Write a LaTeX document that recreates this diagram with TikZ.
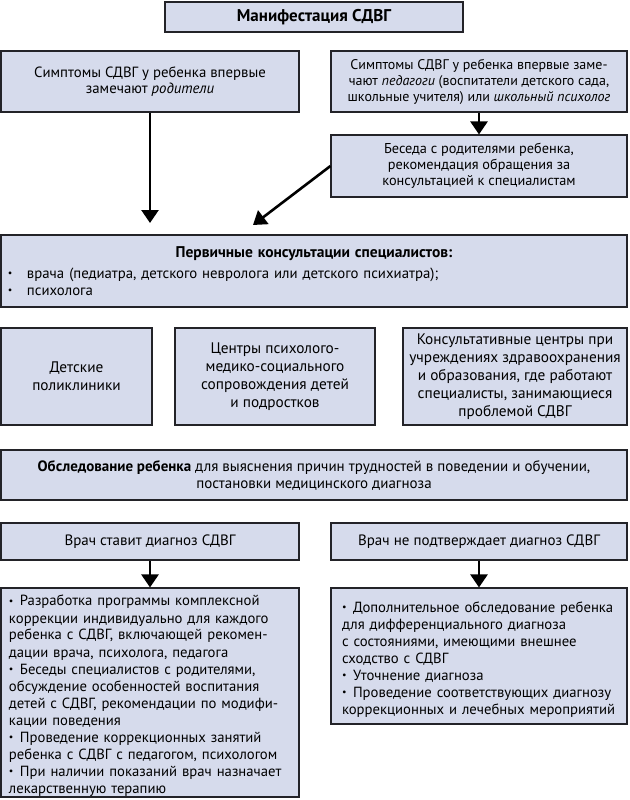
\documentclass[tikz,border=0pt]{standalone}
\usepackage{fontspec}
\setmainfont{PT Sans}
\usetikzlibrary{arrows.meta}
\definecolor{boxfill}{RGB}{214,219,236}
\definecolor{boxline}{RGB}{35,35,40}
\newcommand{\smallbullet}{\raisebox{0.12em}{\fontsize{10}{10}\selectfont •}}
\newcommand{\bitem}[2]{\par\hangindent=#1\hangafter=1\noindent\makebox[#1][l]{\smallbullet}#2}
\begin{document}
\begin{tikzpicture}[x=1pt,y=-1pt,
  box/.style={draw=boxline, line width=1.1pt, fill=boxfill, inner sep=0pt, align=center,
    font=\fontsize{14.5}{16}\selectfont},
  listbox/.style={box, font=\fontsize{14.7}{17}\selectfont},
  centrebox/.style={box, font=\fontsize{15.3}{18}\selectfont},
  arr/.style={draw=black, line width=2.6pt, -{Triangle[width=17pt,length=13pt]}}]
\useasboundingbox (0,0) rectangle (629,800);
% title
\node[box, minimum width=298pt, minimum height=30pt, font=\fontsize{17}{20}\selectfont\bfseries] (title) at (314,17) {Манифестация СДВГ};
% symptoms
\node[box, minimum width=298pt, minimum height=61pt, font=\fontsize{14.8}{16}\selectfont] (sympL) at (150,81.5)
  {Симптомы СДВГ у ребенка впервые\\замечают \textit{родители}};
\node[box, minimum width=296pt, minimum height=61pt, font=\fontsize{14}{16}\selectfont] (sympR) at (479,81.5)
  {Симптомы СДВГ у ребенка впервые заме-\\чают \textit{педагоги} (воспитатели детского сада,\\школьные учителя) или \textit{школьный психолог}};
\node[box, minimum width=296pt, minimum height=62pt, font=\fontsize{14.3}{16}\selectfont] (beseda) at (479,166)
  {Беседа с родителями ребенка,\\рекомендация обращения за\\консультацией к специалистам};
% primary consultations
\node[box, minimum width=626pt, minimum height=72pt, text width=620pt, align=left, font=\fontsize{14.8}{17}\selectfont] (primary) at (314,271)
  {\makebox[\linewidth]{\fontsize{15.5}{17}\selectfont\bfseries Первичные консультации специалистов:}\\[4pt]
   \makebox[23pt][l]{\hspace{4pt}\smallbullet}врача (педиатра, детского невролога или детского психиатра);\\
   \makebox[23pt][l]{\hspace{4pt}\smallbullet}психолога};
% centres
\node[centrebox, minimum width=151pt, minimum height=97pt] (c1) at (76.5,376.5)
  {Детские\\поликлиники};
\node[centrebox, minimum width=200pt, minimum height=97pt] (c2) at (275,376.5)
  {Центры психолого-\\медико-социального\\сопровождения детей\\и подростков};
\node[centrebox, minimum width=224pt, minimum height=97pt] (c3) at (515,376.5)
  {Консультативные центры при\\учреждениях здравоохранения\\и образования, где работают\\специалисты, занимающиеся\\проблемой СДВГ};
% examination
\node[box, minimum width=626pt, minimum height=50pt, font=\fontsize{15}{17}\selectfont] (obsled) at (314,475)
  {\textbf{Обследование ребенка} для выяснения причин трудностей в поведении и обучении,\\постановки медицинского диагноза};
% diagnosis
\node[box, minimum width=298pt, minimum height=37pt, font=\fontsize{15}{17}\selectfont] (diagL) at (150,541.5) {Врач ставит диагноз СДВГ};
\node[box, minimum width=296pt, minimum height=37pt, font=\fontsize{15}{17}\selectfont] (diagR) at (479,541.5) {Врач не подтверждает диагноз СДВГ};
% lists
\node[listbox, minimum width=298pt, minimum height=209pt, text width=290pt, align=left] (listL) at (150,692.5)
  {\leftskip=4pt
   \bitem{11pt}{Разработка программы комплексной\\коррекции индивидуально для каждого\\ребенка с СДВГ, включающей рекомен-\\дации врача, психолога, педагога}
   \bitem{11pt}{Беседы специалистов с родителями,\\обсуждение особенностей воспитания\\детей с СДВГ, рекомендации по модифи-\\кации поведения}
   \bitem{11pt}{Проведение коррекционных занятий\\ребенка с СДВГ с педагогом, психологом}
   \bitem{11pt}{При наличии показаний врач назначает\\лекарственную терапию}\par};
\node[listbox, minimum width=296pt, minimum height=136pt, text width=288pt, align=left] (listR) at (479,656)
  {\leftskip=7pt
   \bitem{11pt}{Дополнительное обследование ребенка\\для дифференциального диагноза\\с состояниями, имеющими внешнее\\сходство с СДВГ}
   \bitem{11pt}{Уточнение диагноза}
   \bitem{11pt}{Проведение соответствующих диагнозу\\коррекционных и лечебных мероприятий}\par};
% arrows
\coordinate (ltip) at (150,223);
\coordinate (dtip) at (253,225);
\draw[arr] (sympL.south) -- (ltip);
\draw[arr] (sympR.south) -- (beseda.north);
\draw[arr] (beseda.west) -- (dtip);
\draw[arr] (diagL.south) -- (listL.north);
\draw[arr] (diagR.south) -- (listR.north);
\end{tikzpicture}
\end{document}
